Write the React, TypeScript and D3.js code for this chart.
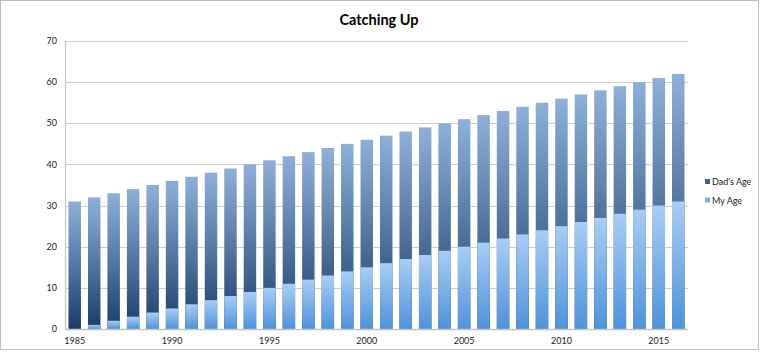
import { useEffect, useRef } from 'react';
import * as d3 from 'd3';

const years = [
  1985, 1986, 1987, 1988, 1989, 1990, 1991, 1992, 1993, 1994, 1995, 1996, 1997, 1998, 1999, 2000,
  2001, 2002, 2003, 2004, 2005, 2006, 2007, 2008, 2009, 2010, 2011, 2012, 2013, 2014, 2015, 2016,
];
const dadsAge = [
  31, 32, 33, 34, 35, 36, 37, 38, 39, 40, 41, 42, 43, 44, 45, 46,
  47, 48, 49, 50, 51, 52, 53, 54, 55, 56, 57, 58, 59, 60, 61, 62,
];
const myAge = [
  0, 1, 2, 3, 4, 5, 6, 7, 8, 9, 10, 11, 12, 13, 14, 15,
  16, 17, 18, 19, 20, 21, 22, 23, 24, 25, 26, 27, 28, 29, 30, 31,
];
const yTicks = [0, 10, 20, 30, 40, 50, 60, 70];
const xTickYears = [1985, 1990, 1995, 2000, 2005, 2010, 2015];

const W = 760;
const H = 352;
const FONT = 'Lato, "Open Sans", sans-serif';

export default function App() {
  const svgRef = useRef<SVGSVGElement>(null);

  useEffect(() => {
    if (!svgRef.current) return;
    const svg = d3.select(svgRef.current);
    svg.selectAll('*').remove();

    const margin = { top: 41, right: 72, bottom: 23, left: 65 };
    const innerWidth = W - margin.left - margin.right;
    const innerHeight = H - margin.top - margin.bottom;

    // gradients, one per series, stretched over each bar
    const defs = svg.append('defs');
    const addGrad = (id: string, top: string, bottom: string) => {
      const lg = defs
        .append('linearGradient')
        .attr('id', id)
        .attr('x1', 0)
        .attr('y1', 0)
        .attr('x2', 0)
        .attr('y2', 1);
      lg.append('stop').attr('offset', '0%').attr('stop-color', top);
      lg.append('stop').attr('offset', '100%').attr('stop-color', bottom);
    };
    addGrad('gDad', '#8eb0d8', '#1b3c69');
    addGrad('gMe', '#a9cdf4', '#4f92da');

    // frame
    svg.append('rect')
      .attr('x', 0.5)
      .attr('y', 0.5)
      .attr('width', W - 2)
      .attr('height', H - 3)
      .attr('fill', '#fff')
      .attr('stroke', '#bdbdbd');

    svg.append('text')
      .attr('x', 379)
      .attr('y', 20)
      .attr('dy', '0.35em')
      .attr('text-anchor', 'middle')
      .attr('font-family', FONT)
      .attr('font-weight', 'bold')
      .attr('font-size', 14.5)
      .attr('fill', '#000')
      .text('Catching Up');

    const g = svg
      .append('g')
      .attr('transform', `translate(${margin.left},${margin.top})`);

    const x = d3
      .scaleBand<number>()
      .domain(years)
      .range([0, innerWidth])
      .paddingInner(0.36)
      .paddingOuter(0.18);
    const y = d3.scaleLinear().domain([0, 70]).range([innerHeight, 0]);

    // gridlines
    g.selectAll('line.grid')
      .data(yTicks)
      .join('line')
      .attr('class', 'grid')
      .attr('x1', 0)
      .attr('x2', innerWidth)
      .attr('y1', (d) => Math.round(y(d)) + 0.5)
      .attr('y2', (d) => Math.round(y(d)) + 0.5)
      .attr('stroke', '#cfcfcf')
      .attr('stroke-width', 1.2);

    g.selectAll('text.ytick')
      .data(yTicks)
      .join('text')
      .attr('class', 'ytick')
      .attr('x', -8)
      .attr('y', (d) => y(d))
      .attr('dy', '0.35em')
      .attr('text-anchor', 'end')
      .attr('font-family', FONT)
      .attr('font-size', 9)
      .attr('fill', '#222')
      .text((d) => d);

    // dad's age bars (behind), my age in front
    g.selectAll('rect.dad')
      .data(years)
      .join('rect')
      .attr('class', 'dad')
      .attr('x', (d) => x(d) ?? 0)
      .attr('width', x.bandwidth())
      .attr('y', (_, i) => y(dadsAge[i]))
      .attr('height', (_, i) => innerHeight - y(dadsAge[i]))
      .attr('fill', 'url(#gDad)');

    g.selectAll('rect.me')
      .data(years)
      .join('rect')
      .attr('class', 'me')
      .attr('x', (d) => x(d) ?? 0)
      .attr('width', x.bandwidth())
      .attr('y', (_, i) => y(myAge[i]))
      .attr('height', (_, i) => innerHeight - y(myAge[i]))
      .attr('fill', 'url(#gMe)');

    // axes lines
    g.append('line')
      .attr('x1', 0.5)
      .attr('x2', 0.5)
      .attr('y1', 0)
      .attr('y2', innerHeight)
      .attr('stroke', '#c4c4c4')
      .attr('stroke-width', 1.2);
    g.append('line')
      .attr('x1', 0)
      .attr('x2', innerWidth)
      .attr('y1', innerHeight + 0.5)
      .attr('y2', innerHeight + 0.5)
      .attr('stroke', '#c4c4c4')
      .attr('stroke-width', 1.5);

    g.selectAll('text.xtick')
      .data(xTickYears)
      .join('text')
      .attr('class', 'xtick')
      .attr('x', (d) => (x(d) ?? 0) + x.bandwidth() / 2)
      .attr('y', innerHeight + 12)
      .attr('dy', '0.35em')
      .attr('text-anchor', 'middle')
      .attr('font-family', FONT)
      .attr('font-size', 9)
      .attr('fill', '#222')
      .text((d) => d);

    // legend
    const legend = [
      { label: "Dad's Age", color: '#3e6592' },
      { label: 'My Age', color: '#80b0e8' },
    ];
    const lg = svg
      .append('g')
      .selectAll('g')
      .data(legend)
      .join('g')
      .attr('transform', (_, i) => `translate(705,${182 + i * 18.5})`);
    lg.append('rect')
      .attr('x', 0)
      .attr('y', -3)
      .attr('width', 5)
      .attr('height', 5)
      .attr('fill', (d) => d.color);
    lg.append('text')
      .attr('x', 7)
      .attr('y', 0)
      .attr('dy', '0.35em')
      .attr('font-family', FONT)
      .attr('font-size', 9)
      .attr('fill', '#222')
      .text((d) => d.label);
  }, []);

  return (
    <svg
      ref={svgRef}
      width={W}
      height={H}
      style={{ position: 'absolute', left: 0, top: 0, display: 'block' }}
    />
  );
}
